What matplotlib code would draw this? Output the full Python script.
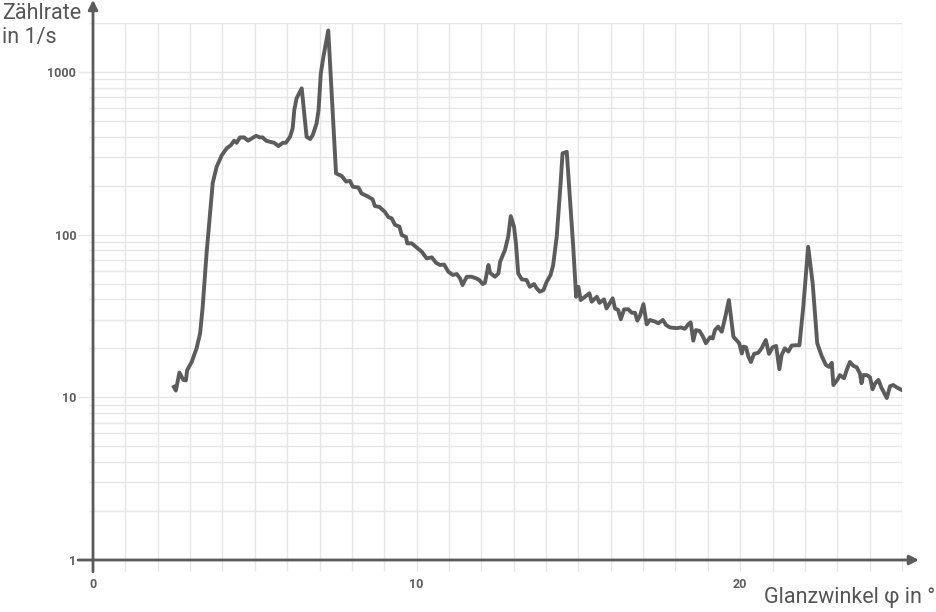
import numpy as np
import matplotlib
matplotlib.use("Agg")
from matplotlib import pyplot as plt
from matplotlib.ticker import LogLocator, FixedLocator, NullFormatter

plt.rcParams['font.family'] = ['Roboto', 'DejaVu Sans']

# Glanzwinkel in degrees
angle = [2.50, 2.56, 2.67, 2.79, 2.87, 2.91, 3.05, 3.20, 3.31, 3.39,
         3.51, 3.62, 3.70, 3.82, 3.98, 4.13, 4.26, 4.36, 4.44, 4.54,
         4.67, 4.79, 4.91, 5.04, 5.16, 5.24, 5.35, 5.47, 5.60, 5.73,
         5.86, 5.96, 6.09, 6.17, 6.22, 6.29, 6.45, 6.60, 6.71, 6.79,
         6.91, 6.97, 7.04, 7.12, 7.27, 7.51, 7.69, 7.82, 7.94, 8.03,
         8.20, 8.30, 8.46, 8.64, 8.71, 8.85, 9.02, 9.13, 9.23, 9.33,
         9.47, 9.54, 9.67, 9.71, 9.85, 10.00, 10.16, 10.31, 10.47, 10.60,
         10.72, 10.85, 10.98, 11.12, 11.24, 11.34, 11.42, 11.55, 11.70, 11.84,
         11.94, 12.04, 12.11, 12.22, 12.27, 12.42, 12.53, 12.58, 12.73, 12.83,
         12.91, 13.01, 13.07, 13.14, 13.25, 13.40, 13.50, 13.63, 13.71, 13.81,
         13.92, 14.02, 14.14, 14.22, 14.33, 14.45, 14.51, 14.64, 14.74, 14.84,
         14.93, 15.00, 15.07, 15.20, 15.34, 15.41, 15.57, 15.65, 15.79, 15.87,
         16.06, 16.13, 16.23, 16.31, 16.41, 16.54, 16.65, 16.75, 16.82, 16.90,
         17.01, 17.11, 17.21, 17.37, 17.47, 17.61, 17.71, 17.83, 18.04, 18.16,
         18.29, 18.40, 18.47, 18.55, 18.63, 18.74, 18.84, 18.94, 19.07, 19.15,
         19.22, 19.32, 19.43, 19.53, 19.65, 19.79, 19.97, 20.05, 20.10, 20.18,
         20.25, 20.33, 20.43, 20.56, 20.66, 20.79, 20.89, 21.00, 21.11, 21.21,
         21.28, 21.38, 21.49, 21.59, 21.72, 21.83, 21.95, 22.10, 22.24, 22.38,
         22.52, 22.65, 22.75, 22.83, 22.88, 23.00, 23.08, 23.21, 23.29, 23.39,
         23.50, 23.60, 23.70, 23.75, 23.80, 23.91, 24.01, 24.09, 24.16, 24.27,
         24.37, 24.53, 24.63, 24.73, 24.84, 24.99]

# Zaehlrate in 1/s
rate = [11.6, 11.0, 14.2, 12.8, 12.7, 14.7, 16.5, 20.0, 24.7, 36.1,
        77.1, 136, 208, 261, 308, 339, 355, 378, 367, 396,
        396, 378, 391, 405, 396, 396, 378, 372, 367, 350,
        367, 367, 400, 450, 583, 688, 793, 400, 387, 409,
        483, 583, 980, 1240, 1800, 238, 229, 212, 214, 197,
        195, 179, 173, 165, 150, 148, 138, 128, 126, 115,
        112, 99.4, 97.0, 88.4, 88.4, 83.5, 78.5, 71.5, 72.5, 67.2,
        65.1, 65.5, 59.2, 56.5, 57.3, 53.9, 49.0, 55.1, 55.1, 53.9,
        52.6, 49.7, 50.5, 65.1, 58.3, 55.1, 57.8, 68.1, 80.4, 97.0,
        130, 112, 88.4, 57.8, 53.1, 52.6, 47.8, 49.7, 46.8, 44.6,
        45.6, 51.3, 56.5, 65.1, 97.0, 207, 316, 323, 163, 84.2,
        41.5, 47.8, 39.6, 41.5, 43.6, 38.7, 41.5, 38.1, 40.0, 35.2,
        40.6, 35.2, 34.4, 30.2, 34.7, 34.8, 33.1, 33.1, 29.6, 31.6,
        37.4, 28.1, 29.9, 29.2, 28.5, 29.9, 27.8, 26.9, 26.6, 26.9,
        26.4, 28.2, 28.9, 22.3, 25.9, 25.6, 23.8, 21.5, 23.4, 23.0,
        25.9, 27.2, 25.3, 30.6, 39.6, 23.6, 21.5, 18.6, 20.5, 20.3,
        17.9, 16.5, 18.5, 18.8, 20.0, 22.5, 18.5, 20.3, 20.7, 14.9,
        18.2, 20.0, 19.1, 20.8, 20.9, 20.9, 36.1, 84.2, 50.2, 21.5,
        17.9, 15.8, 15.4, 16.3, 11.9, 12.8, 13.7, 13.1, 14.7, 16.5,
        15.6, 15.3, 14.0, 12.2, 13.7, 13.7, 13.3, 11.2, 12.1, 12.8,
        11.4, 9.9, 11.7, 11.9, 11.5, 11.1]

x_ticks = [0, 10, 20]
y_ticks = [1, 10, 100, 1000]

grid_col = '#e6e6e6'
axis_col = '#5a5a5a'
text_col = '#555555'

fig = plt.figure(figsize=(9.36, 6.12), dpi=100)
ax = fig.add_axes([93 / 936, 1 - 560 / 612, 809 / 936, 537 / 612])

ax.plot(angle, rate, color='#5c5c5c', lw=2.8, solid_joinstyle='round')

ax.set_yscale('log')
ax.set_xlim(0, 25)
ax.set_ylim(1, 2000)

ax.xaxis.set_major_locator(FixedLocator(x_ticks))
ax.xaxis.set_minor_locator(FixedLocator(range(0, 26)))
ax.yaxis.set_major_locator(FixedLocator(y_ticks))
ax.yaxis.set_minor_locator(LogLocator(base=10, subs=np.arange(2, 10)))
ax.yaxis.set_minor_formatter(NullFormatter())
ax.set_xticklabels([str(t) for t in x_ticks])
ax.set_yticklabels([str(t) for t in y_ticks])

ax.grid(True, which='both', color=grid_col, lw=1)
ax.set_axisbelow(True)
for s in ax.spines.values():
    s.set_visible(False)

ax.tick_params(axis='x', which='both', direction='out', length=8, color=grid_col,
               width=1, pad=5, labelsize=9, labelcolor='#5e5e5e')
ax.tick_params(axis='y', which='major', direction='out', length=11, color=grid_col,
               width=1, pad=1, labelsize=9, labelcolor='#5e5e5e')
ax.tick_params(axis='y', which='minor', direction='out', length=3, color=grid_col, width=1)
for lab in ax.get_xticklabels() + ax.get_yticklabels():
    lab.set_fontweight('bold')

# axes with arrows
arr = dict(arrowstyle='-|>', color=axis_col, lw=2, mutation_scale=14,
           shrinkA=0, shrinkB=0)
ax.annotate('', xy=(0, 1.043), xytext=(0, -0.022), xycoords='axes fraction',
            textcoords='axes fraction', arrowprops=arr, annotation_clip=False)
ax.annotate('', xy=(1.021, 0), xytext=(-0.0185, 0), xycoords='axes fraction',
            textcoords='axes fraction', arrowprops=arr, annotation_clip=False)

fig.text(2 / 936, 1 - 3 / 612, 'Zählrate\nin 1/s', ha='left', va='top',
         fontsize=15.5, color=text_col, linespacing=1.2)
fig.text(935 / 936, 1 - 598 / 612, 'Glanzwinkel φ in °', ha='right', va='center',
         fontsize=15.5, color=text_col)

fig.savefig('out.png', dpi=100)
